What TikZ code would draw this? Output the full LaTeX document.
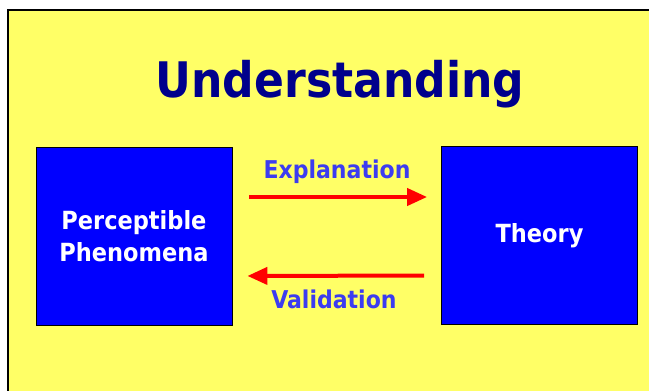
\documentclass[tikz,border=0pt]{standalone}
\usepackage{fontspec}
\setmainfont{DejaVu Sans Condensed}
\usetikzlibrary{arrows.meta}
\definecolor{bgyellow}{RGB}{255,255,102}
\definecolor{boxblue}{RGB}{0,0,255}
\definecolor{titlenavy}{RGB}{0,0,140}
\definecolor{labelblue}{RGB}{60,60,240}
\definecolor{arrred}{RGB}{255,0,0}
\tikzset{
  bigbox/.style={draw=black, line width=0.8pt, fill=boxblue, minimum width=196pt, minimum height=178pt,
    text=white, font=\bfseries\fontsize{25}{32}\selectfont, align=center, inner sep=0pt},
  lbl/.style={text=labelblue, font=\bfseries\fontsize{24.5}{28}\selectfont, inner sep=0pt},
  arr/.style={draw=arrred, line width=4pt, -{Triangle[length=20pt,width=17pt]}}
}
\begin{document}
\begin{tikzpicture}[x=1pt,y=-1pt]
\useasboundingbox (0,0) rectangle (649,391);
\fill[bgyellow] (8,10) rectangle (660,400);
\draw[line width=1.5pt] (8,400) -- (8,10) -- (660,10);
\node[text=titlenavy, font=\bfseries\fontsize{49}{56}\selectfont, inner sep=0pt] (title) at (340,84) {Understanding};
\node[bigbox] (pp) at (134,236) {Perceptible\\Phenomena};
\node[bigbox] (th) at (539.5,235.5) {Theory};
\node[lbl] (ex) at (337,172) {Explanation};
\node[lbl] (va) at (334,299) {Validation};
\draw[arr, shorten <=17pt, shorten >=14pt] ([yshift=39pt]pp.east) -- ([yshift=39pt]pp.east -| th.west);
\draw[arr, shorten <=17pt, shorten >=15pt] ([yshift=-40pt]th.west -| th.west) -- ([yshift=-40pt]pp.east);
\end{tikzpicture}
\end{document}
